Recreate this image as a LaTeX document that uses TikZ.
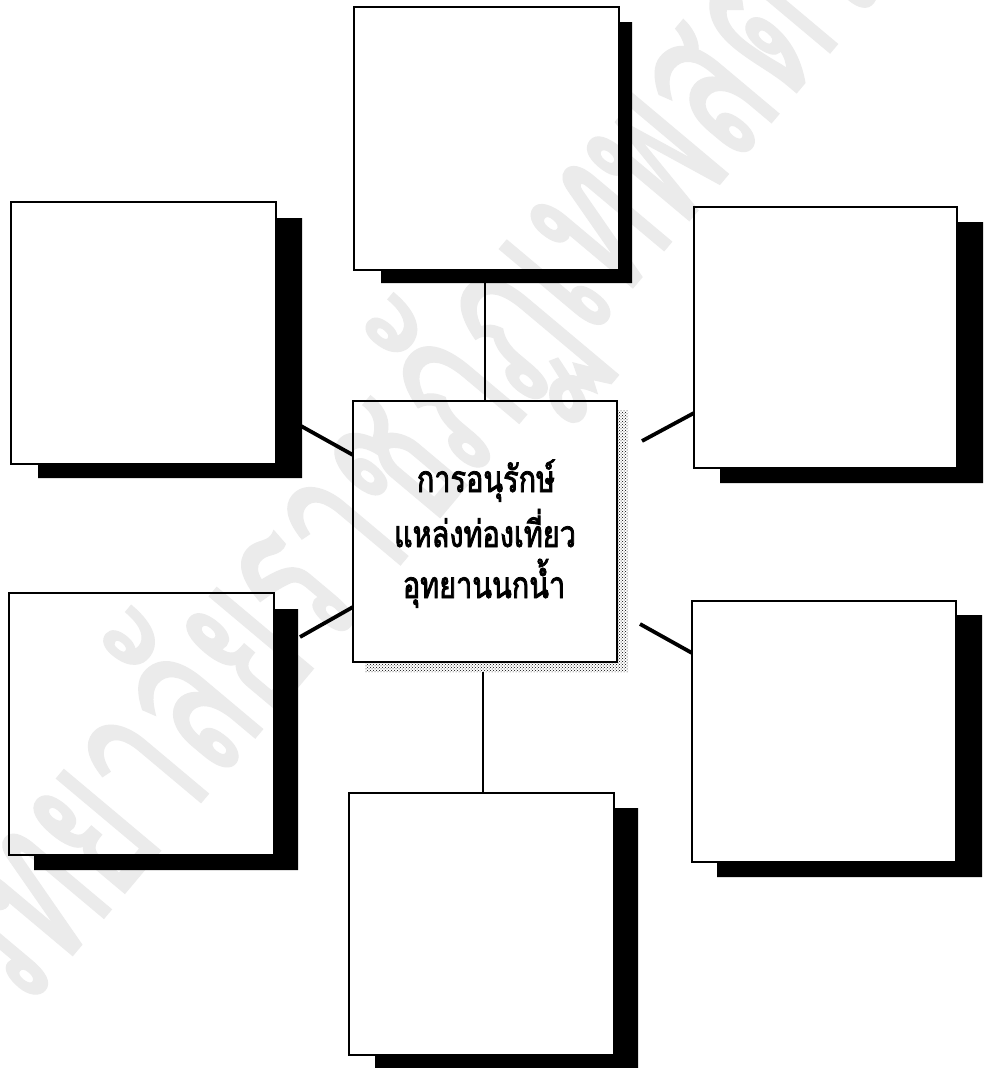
\documentclass[tikz,border=0pt]{standalone}
\usepackage{fontspec}
\newfontfamily\titlefont[Script=Thai, FakeBold=2.2, FakeStretch=0.78]{Loma}
\newfontfamily\markfont[Script=Thai, FakeBold=1.0, FakeStretch=0.6]{Loma}
\usetikzlibrary{patterns}
\newcommand\boxshadow[6]{% R B SL ST SR SB
  \fill[black] (#1,#4) -- (#5,#4) -- (#5,#6) -- (#3,#6) -- (#3,#2) -- (#1,#2) -- cycle;}
\tikzset{
  panel/.style={draw=black, line width=2pt, inner sep=0pt, outer sep=0pt, rectangle},
  link/.style={draw=black, line width=2pt},
  thicklink/.style={draw=black, line width=3.8pt},
  title/.style={font=\titlefont\fontsize{37}{40}\selectfont, anchor=base, inner sep=0pt},
  watermark/.style={font=\markfont\fontsize{225}{235}\selectfont, text=black!8, rotate=50, anchor=base, inner sep=0pt}
}
\begin{document}
\begin{tikzpicture}[x=1pt,y=-1pt]
\clip (0,0) rectangle (983,1068);
\fill[white] (0,0) rectangle (983,1068);
% watermark
\node[watermark] (wm) at (450,505) {วิทยาลัยราชภัฏเทพสตรี};
% shadows
\boxshadow{619}{270}{381}{22}{632}{283}
\boxshadow{276}{464}{38}{218}{302}{478}
\boxshadow{957}{468}{720}{222}{990}{483}
\boxshadow{274}{855}{34}{609}{298}{870}
\boxshadow{956}{862}{717}{615}{982}{877}
\boxshadow{614}{1055}{375}{808}{638}{1075}
% stippled shadow of the centre box
\fill[pattern=crosshatch dots, pattern color=black]
  (617,410) -- (628,410) -- (628,672) -- (365,672) -- (365,662) -- (617,662) -- cycle;
% boxes
\node[panel, minimum width=265pt, minimum height=263pt] (top) at (486.5,138.5) {};
\node[panel, minimum width=265pt, minimum height=262pt] (lu) at (143.5,333) {};
\node[panel, minimum width=263pt, minimum height=261pt] (ru) at (825.5,337.5) {};
\node[panel, minimum width=265pt, minimum height=262pt] (ll) at (141.5,724) {};
\node[panel, minimum width=264pt, minimum height=261pt] (rl) at (824,731.5) {};
\node[panel, minimum width=265pt, minimum height=262pt] (bt) at (481.5,924) {};
\node[panel, minimum width=264pt, minimum height=261pt] (ctr) at (485,531.5) {};
% connector ends on the shadows
\coordinate (topS) at (485,283);
\coordinate (ctrT) at (485,401);
\coordinate (ctrS) at (483,672);
\coordinate (luS) at (301,426);
\coordinate (ctrLU) at (353,455);
\coordinate (ruS) at (642,441);
\coordinate (ruL) at (694,413);
\coordinate (llS) at (300,637);
\coordinate (ctrLL) at (353,607);
\coordinate (rlS) at (640,624);
\coordinate (rlL) at (692,653);
\coordinate (btT) at (483,793);
% connectors
\draw[link] (topS) -- (ctrT);
\draw[link] (ctrS) -- (btT);
\draw[thicklink] (luS) -- (ctrLU);
\draw[thicklink] (ruS) -- (ruL);
\draw[thicklink] (llS) -- (ctrLL);
\draw[thicklink] (rlS) -- (rlL);
% title
\node[title] (t1) at (486,492) {การอนุรักษ์};
\node[title] (t2) at (485,547) {แหล่งท่องเที่ยว};
\node[title] (t3) at (484,598) {อุทยานนกน้ำ};
\end{tikzpicture}
\end{document}
